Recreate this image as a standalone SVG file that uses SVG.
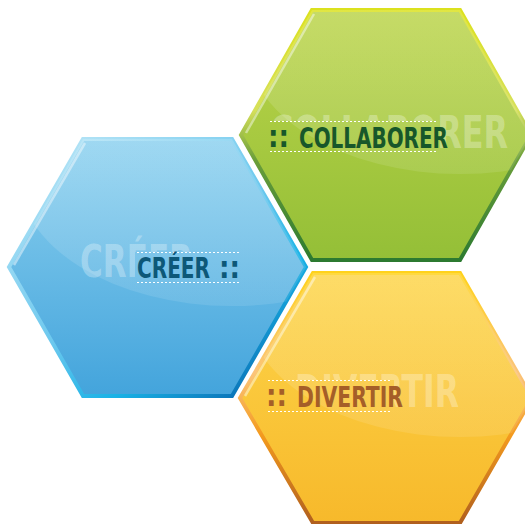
<svg xmlns="http://www.w3.org/2000/svg" width="525" height="524" viewBox="0 0 525 524">
<style>
.lbl{font-family:"Liberation Sans Narrow","DejaVu Sans Condensed","Liberation Sans",sans-serif;font-weight:bold;font-size:28px;font-stretch:condensed}
.dots{font-family:"Liberation Sans Narrow","DejaVu Sans Condensed","Liberation Sans",sans-serif;font-weight:bold;font-size:30px;font-stretch:condensed}
.ghost{font-family:"Liberation Sans Narrow","DejaVu Sans Condensed","Liberation Sans",sans-serif;font-weight:bold;font-size:45px;font-stretch:condensed;fill:#ffffff;fill-opacity:0.3}
.dash{stroke:#ffffff;stroke-width:1;stroke-dasharray:2 2;fill:none}
.hl{fill:none;stroke:#ffffff;stroke-opacity:0.45;stroke-width:2.5}
</style>
<defs>
<linearGradient id="gBlue" gradientUnits="userSpaceOnUse" x1="0" y1="139" x2="0" y2="396">
<stop offset="0" stop-color="#8dd1ef"/><stop offset="1" stop-color="#43a4dc"/></linearGradient>
<linearGradient id="sBlue" gradientUnits="userSpaceOnUse" x1="60" y1="139" x2="250" y2="396">
<stop offset="0" stop-color="#b5e4f6"/><stop offset="0.5" stop-color="#6cc8ee"/><stop offset="0.75" stop-color="#19b2e6"/><stop offset="1" stop-color="#0a6fb4"/></linearGradient>
<linearGradient id="gGreen" gradientUnits="userSpaceOnUse" x1="0" y1="10" x2="0" y2="260">
<stop offset="0" stop-color="#bbd44a"/><stop offset="1" stop-color="#94bf37"/></linearGradient>
<linearGradient id="sGreen" gradientUnits="userSpaceOnUse" x1="0" y1="10" x2="0" y2="260">
<stop offset="0" stop-color="#dbe11e"/><stop offset="0.4" stop-color="#d6e05a"/><stop offset="0.6" stop-color="#6a9e3a"/><stop offset="1" stop-color="#2c7a30"/></linearGradient>
<linearGradient id="gYellow" gradientUnits="userSpaceOnUse" x1="0" y1="273" x2="0" y2="523">
<stop offset="0" stop-color="#fdd54a"/><stop offset="1" stop-color="#f7b92b"/></linearGradient>
<linearGradient id="sYellow" gradientUnits="userSpaceOnUse" x1="0" y1="273" x2="0" y2="523">
<stop offset="0" stop-color="#ffd21c"/><stop offset="0.4" stop-color="#fbc47a"/><stop offset="0.65" stop-color="#f39a1e"/><stop offset="1" stop-color="#b05f1e"/></linearGradient>
<linearGradient id="gloss" x1="0" y1="0" x2="0" y2="1">
<stop offset="0" stop-color="#ffffff" stop-opacity="0.2"/><stop offset="1" stop-color="#ffffff" stop-opacity="0.1"/></linearGradient>
<clipPath id="cBlue"><polygon points="9,267 83,139 232,139 306,267 232,396 83,396"/></clipPath>
<clipPath id="cGreen"><polygon points="241,135 312,10 460,10 531,135 460,260 312,260"/></clipPath>
<clipPath id="cYellow"><polygon points="240,398 313,273 460,273 532,398 460,523 313,523"/></clipPath>
</defs>
<rect width="525" height="524" fill="#ffffff"/>
<g id="connectors"/>
<g id="node-creer">
<polygon points="9,267 83,139 232,139 306,267 232,396 83,396" fill="url(#gBlue)" stroke="url(#sBlue)" stroke-width="4"/>
<polyline class="hl" points="14,265 85,143"/>
<text class="ghost" x="80" y="277" textLength="113" lengthAdjust="spacingAndGlyphs">CRÉER</text>
<rect x="135" y="252" width="105" height="31" fill="url(#gBlue)"/>
<ellipse cx="232" cy="172" rx="215" ry="134" fill="url(#gloss)" clip-path="url(#cBlue)"/>
<line class="dash" x1="137" y1="252.5" x2="239" y2="252.5"/>
<line class="dash" x1="137" y1="282.5" x2="239" y2="282.5"/>
<text class="lbl" x="137" y="278" fill="#0d5878" textLength="73" lengthAdjust="spacingAndGlyphs">CRÉER</text>
<text class="dots" x="219" y="278" fill="#0d5878" textLength="21" lengthAdjust="spacingAndGlyphs">::</text>
</g>
<g id="node-collaborer">
<polygon points="241,135 312,10 460,10 531,135 460,260 312,260" fill="url(#gGreen)" stroke="url(#sGreen)" stroke-width="4"/>
<polyline class="hl" points="246,133 314,14"/>
<text class="ghost" x="270" y="148" textLength="238" lengthAdjust="spacingAndGlyphs">COLLABORER</text>
<rect x="268" y="121" width="172" height="31" fill="url(#gGreen)"/>
<ellipse cx="460" cy="40" rx="215" ry="134" fill="url(#gloss)" clip-path="url(#cGreen)"/>
<line class="dash" x1="270" y1="121.5" x2="438" y2="121.5"/>
<line class="dash" x1="270" y1="151.5" x2="438" y2="151.5"/>
<text class="dots" x="268" y="147" fill="#17572a" textLength="21" lengthAdjust="spacingAndGlyphs">::</text>
<text class="lbl" x="299" y="148" fill="#17572a" textLength="149" lengthAdjust="spacingAndGlyphs">COLLABORER</text>
</g>
<g id="node-divertir">
<polygon points="240,398 313,273 460,273 532,398 460,523 313,523" fill="url(#gYellow)" stroke="url(#sYellow)" stroke-width="4"/>
<polyline class="hl" points="245,396 315,277"/>
<text class="ghost" x="295" y="407" textLength="164" lengthAdjust="spacingAndGlyphs">DIVERTIR</text>
<rect x="266" y="380" width="128" height="32" fill="url(#gYellow)"/>
<ellipse cx="460" cy="303" rx="215" ry="134" fill="url(#gloss)" clip-path="url(#cYellow)"/>
<line class="dash" x1="268" y1="380.5" x2="392" y2="380.5"/>
<line class="dash" x1="268" y1="411.5" x2="392" y2="411.5"/>
<text class="dots" x="266" y="406" fill="#a55e28" textLength="21" lengthAdjust="spacingAndGlyphs">::</text>
<text class="lbl" x="297" y="407" fill="#a55e28" textLength="106" lengthAdjust="spacingAndGlyphs">DIVERTIR</text>
</g>
</svg>
